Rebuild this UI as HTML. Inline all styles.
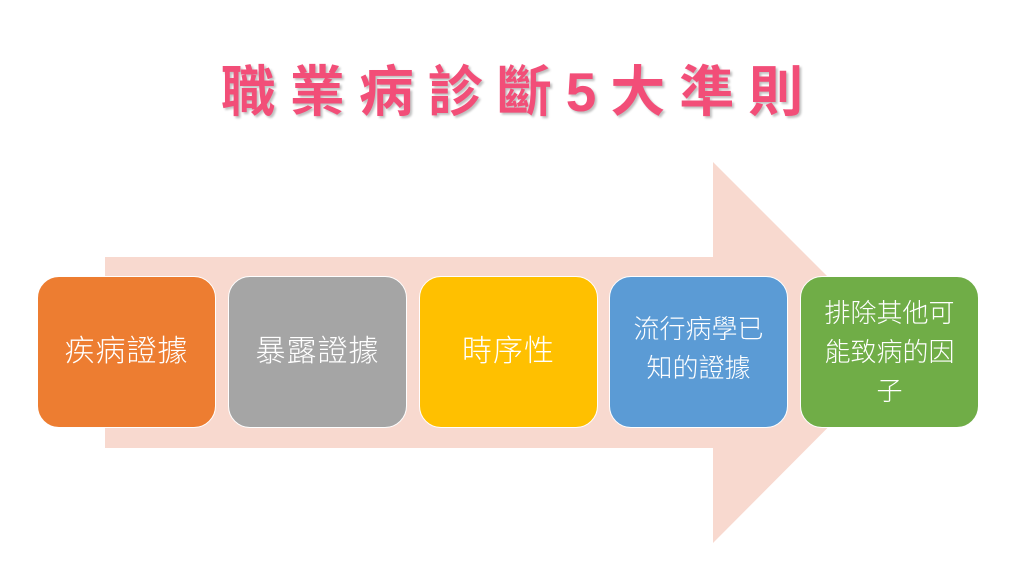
<!DOCTYPE html>
<html><head><meta charset="utf-8"><style>
body{margin:0;width:1024px;height:576px;background:#fff;position:relative;overflow:hidden;font-family:"Liberation Sans","Noto Sans CJK TC",sans-serif}
.t{position:absolute;left:0;width:1024px;top:56px;text-align:center;font-size:55px;font-weight:bold;color:#f24e78;letter-spacing:14px;text-indent:14px;line-height:72px;text-shadow:2px 2px 2px rgba(0,0,0,0.25)}
.b{position:absolute;top:276px;height:152px;width:179px;border-radius:22px;border:1.5px solid #fff;box-sizing:border-box;color:#fff;display:flex;align-items:center;justify-content:center;text-align:center;font-size:30px;letter-spacing:1px;line-height:40px;font-weight:300}
.s{font-size:26px;letter-spacing:0;line-height:39px}
</style></head><body>
<svg width="1024" height="576" style="position:absolute;left:0;top:0">
<polygon points="105,257 713,257 713,162 903,352 713,543 713,448 105,448" fill="#f8d9cf"/>
</svg>
<div class="t">職業病診斷5大準則</div>
<div class="b" style="left:37px;background:#ed7d31">疾病證據</div>
<div class="b" style="left:228px;background:#a5a5a5">暴露證據</div>
<div class="b" style="left:419px;background:#ffc000">時序性</div>
<div class="b s" style="left:609px;background:#5b9bd5;padding-bottom:6px">流行病學已<br>知的證據</div>
<div class="b s" style="left:800px;background:#70ad47;padding:0 10px">排除其他可<br>能致病的因<br>子</div>
</body></html>
